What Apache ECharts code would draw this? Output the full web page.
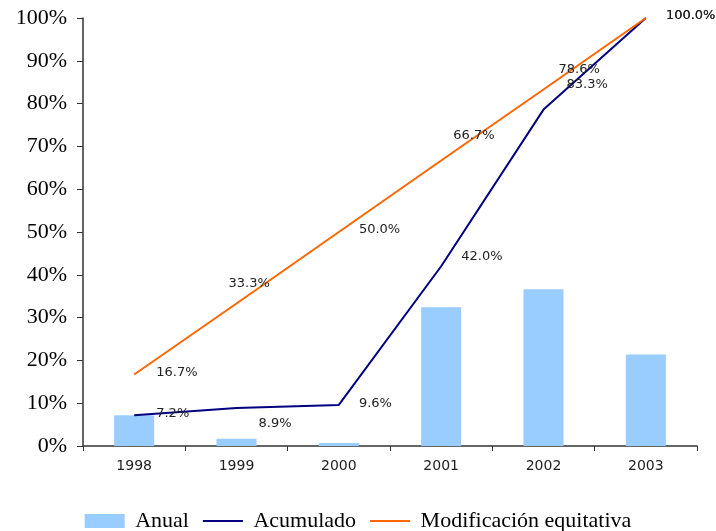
<!DOCTYPE html>
<html>
<head>
<meta charset="utf-8">
<script src="https://cdn.jsdelivr.net/npm/echarts@6/dist/echarts.min.js"></script>
<style>
  html, body { margin: 0; padding: 0; background: #fff; }
  #chart { width: 716px; height: 531px; }
</style>
</head>
<body>
<div id="chart"></div>
<script>
// Years on the horizontal axis
const years = ['1998', '1999', '2000', '2001', '2002', '2003'];
// Share executed each year (%)
const anual = [7.2, 1.7, 0.7, 32.4, 36.6, 21.4];
// Running total (%)
const acumulado = [7.2, 8.9, 9.6, 42.0, 78.6, 100.0];
// Even spread across the six years (%)
const equitativa = [16.7, 33.3, 50.0, 66.7, 83.3, 100.0];

// Label nudges [dx, dy] in pixels, so the value texts don't collide
const acumuladoNudge = [[22, -2], [22, 16], [20, -1], [20, -10], [15, -40], [20, -2]];
const equitativaNudge = [[22, -2], [-8, -20], [20, -2], [12, -25], [23, -5], [20, -2]];

const labelFont = { fontFamily: 'DejaVu Sans', fontSize: 13, color: '#222' };

function withLabels(values, nudges) {
  return values.map((v, i) => ({
    value: v,
    label: { offset: nudges[i] }
  }));
}

const chart = echarts.init(document.getElementById('chart'), null, { renderer: 'canvas' });
chart.setOption({
  animation: false,
  backgroundColor: '#fff',
  grid: { left: 83, right: 19, top: 18, bottom: 85 },
  legend: {
    top: 505,
    left: 'center',
    itemGap: 13,
    itemWidth: 40,
    itemHeight: 14,
    formatter: name => ' ' + name,
    textStyle: { fontFamily: 'Liberation Serif', fontSize: 22, color: '#000' },
    data: [
      { name: 'Anual', icon: 'rect' },
      { name: 'Acumulado', itemStyle: { opacity: 0 }, lineStyle: { opacity: 1 } },
      { name: 'Modificación equitativa', itemStyle: { opacity: 0 }, lineStyle: { opacity: 1 } }
    ]
  },
  xAxis: {
    type: 'category',
    data: years,
    boundaryGap: true,
    axisLine: { lineStyle: { color: '#333', width: 1.5 } },
    axisTick: { show: true, alignWithLabel: false, length: 5, lineStyle: { color: '#333' } },
    axisLabel: { fontFamily: 'DejaVu Sans', fontSize: 14, color: '#222', margin: 13 }
  },
  yAxis: {
    type: 'value',
    min: 0,
    max: 100,
    interval: 10,
    splitLine: { show: false },
    axisLine: { show: true, lineStyle: { color: '#333', width: 1.5 } },
    axisTick: { show: true, length: 6, inside: false, lineStyle: { color: '#333' } },
    axisLabel: {
      formatter: '{value}%',
      fontFamily: 'Liberation Serif',
      fontSize: 22,
      color: '#000',
      margin: 16
    }
  },
  series: [
    {
      name: 'Anual',
      type: 'bar',
      data: anual,
      barWidth: 40,
      itemStyle: { color: '#99CCFF' }
    },
    {
      name: 'Acumulado',
      type: 'line',
      data: withLabels(acumulado, acumuladoNudge),
      symbol: 'circle',
      symbolSize: 0.1,
      showSymbol: true,
      lineStyle: { color: '#000080', width: 2 },
      itemStyle: { color: '#000080' },
      label: {
        show: true,
        position: 'right',
        distance: 0,
        formatter: p => p.value.toFixed(1) + '%',
        ...labelFont
      }
    },
    {
      name: 'Modificación equitativa',
      type: 'line',
      data: withLabels(equitativa, equitativaNudge),
      symbol: 'circle',
      symbolSize: 0.1,
      showSymbol: true,
      lineStyle: { color: '#FF6600', width: 2 },
      itemStyle: { color: '#FF6600' },
      label: {
        show: true,
        position: 'right',
        distance: 0,
        formatter: p => p.value.toFixed(1) + '%',
        ...labelFont
      }
    }
  ]
});
</script>
</body>
</html>
